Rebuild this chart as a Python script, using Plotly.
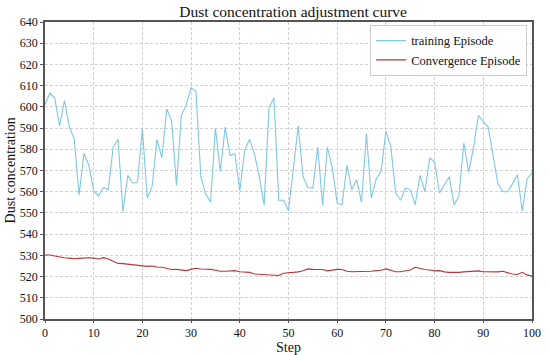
import plotly.graph_objects as go

steps = list(range(101))
training = [601, 606.5, 604, 591, 603, 590.5, 585, 558.5, 578, 572.5,
            560.5, 558, 562, 561, 581, 584.7, 550.6, 567.7, 564, 564.5,
            589.5, 557, 562.5, 584.7, 576, 599, 593.4, 563, 596, 601,
            609, 607.5, 567, 559, 555, 590, 569.5, 590.5, 577, 578,
            560.2, 579.5, 584.7, 578, 567, 553.8, 599.5, 604.3, 556, 556,
            551, 571.5, 591, 567, 562, 561.7, 581, 553.8, 581, 571,
            554.6, 553.8, 572.4, 561, 565.6, 555, 587.4, 557, 566, 569.5,
            588.5, 581.5, 559.4, 556, 561.7, 561, 553.8, 567.7, 560, 576,
            574, 559.4, 563.3, 567, 553.8, 558, 583, 569.2, 581, 596,
            593, 590.5, 577, 563.7, 560, 560, 563.7, 568, 551, 566, 569]
convergence = [530.2, 530.2, 529.7, 529.2, 528.9, 528.7, 528.4, 528.6, 528.9, 528.9,
               528.7, 528.3, 528.9, 528.3, 527.2, 526.2, 526.1, 525.9, 525.5, 525.3,
               525.2, 524.8, 525.0, 524.5, 524.4, 523.9, 523.3, 523.4, 523.1, 522.8,
               523.4, 523.9, 523.6, 523.6, 523.4, 523.0, 522.5, 522.5, 522.7, 522.8,
               522.3, 522.3, 522.0, 521.2, 521.0, 521.0, 520.8, 520.6, 520.5, 521.6,
               521.7, 521.8, 522.2, 522.7, 523.6, 523.4, 523.4, 523.3, 522.7, 523.0,
               523.4, 523.3, 522.5, 522.3, 522.3, 522.3, 522.3, 522.5, 522.8, 523.0,
               523.6, 523.0, 522.3, 522.3, 522.7, 523.1, 524.4, 523.8, 523.3, 523.1,
               522.7, 522.8, 522.2, 522.0, 521.9, 522.0, 522.2, 522.3, 522.5, 522.7,
               522.3, 522.2, 522.0, 522.2, 522.5, 521.9, 521.2, 521.0, 522.0, 520.8, 520.2]

font_family = "Liberation Serif, Times New Roman, serif"

fig = go.Figure()
fig.add_trace(go.Scatter(x=steps, y=training, mode="lines", name="training Episode",
                         line=dict(color="#7ec8e3", width=1.1)))
fig.add_trace(go.Scatter(x=steps, y=convergence, mode="lines", name="Convergence Episode",
                         line=dict(color="#b5363a", width=1.1)))

axis_common = dict(showline=True, linecolor="#555", linewidth=1.5, mirror=True,
                   showgrid=True, gridcolor="#d0d0d0", griddash="3px,2px", gridwidth=1,
                   ticks="outside", tickcolor="#555",
                   tickfont=dict(family=font_family, size=12, color="#111"),
                   zeroline=False)

fig.update_layout(
    width=550, height=355,
    margin=dict(l=45, r=9, t=22, b=36),
    plot_bgcolor="white", paper_bgcolor="white",
    title=dict(text="Dust concentration adjustment curve", x=0.533, xanchor="center",
               y=0.982, yanchor="top",
               font=dict(family=font_family, size=15.5, color="#111")),
    xaxis=dict(range=[0, 100], dtick=10, tick0=0, ticklen=2, **axis_common),
    yaxis=dict(range=[500, 640], dtick=10, tick0=500, ticklen=3, **axis_common),
    legend=dict(x=0.99, y=0.99, xanchor="right", yanchor="top",
                bgcolor="rgba(255,255,255,0.9)", bordercolor="#cccccc", borderwidth=1,
                font=dict(family=font_family, size=12.5, color="#111"),
                tracegroupgap=0, itemwidth=30),
    annotations=[
        dict(text="Step", xref="paper", yref="paper", x=0.5, y=-0.097,
             xanchor="center", yanchor="middle", showarrow=False,
             font=dict(family=font_family, size=14, color="#111")),
        dict(text="Dust concentration", xref="paper", yref="paper", x=-0.07, y=0.5,
             xanchor="center", yanchor="middle", showarrow=False, textangle=-90,
             font=dict(family=font_family, size=14, color="#111")),
    ],
    showlegend=True,
)

fig.write_html("out.html", config={"displayModeBar": False},
               post_script="document.body.style.margin='0';document.body.style.padding='0';")
